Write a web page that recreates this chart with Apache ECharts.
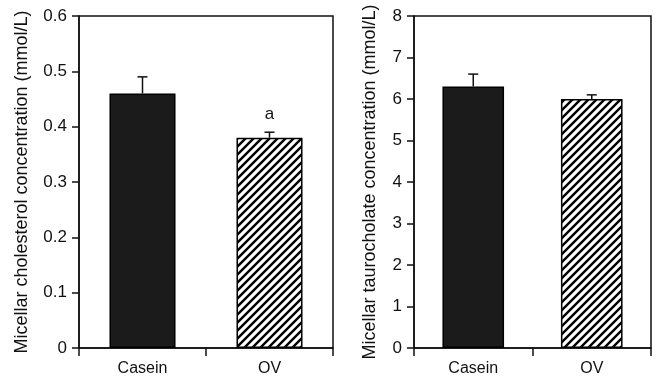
<!DOCTYPE html>
<html>
<head>
<meta charset="utf-8">
<script src="https://cdn.jsdelivr.net/npm/echarts@6/dist/echarts.min.js"></script>
<style>
  html, body { margin: 0; padding: 0; background: #fff; }
  #chart { width: 656px; height: 382px; }
</style>
</head>
<body>
<div id="chart"></div>
<script>
const categories = ['Casein', 'OV'];

// left panel: micellar cholesterol (mmol/L)
const cholMean = [0.46, 0.38];
const cholErr = [0.03, 0.01];
const cholMarks = ['', 'a'];

// right panel: micellar taurocholate (mmol/L)
const tauroMean = [6.3, 6.0];
const tauroErr = [0.3, 0.1];
const tauroMarks = ['', ''];

const font = '"Liberation Sans", Arial, Helvetica, sans-serif';
const ink = '#111';

// diagonal hatch for the OV bars
function hatch() {
  const c = document.createElement('canvas');
  c.width = 8; c.height = 8;
  const g = c.getContext('2d');
  g.fillStyle = '#fff';
  g.fillRect(0, 0, 8, 8);
  g.strokeStyle = '#000';
  g.lineWidth = 2.4;
  g.beginPath();
  g.moveTo(-2, 10); g.lineTo(10, -2);
  g.moveTo(-2, 2); g.lineTo(2, -2);
  g.moveTo(6, 10); g.lineTo(10, 6);
  g.stroke();
  return c;
}
const pattern = { image: hatch(), repeat: 'repeat' };

function errorItem(params, api) {
  const i = api.value(0);
  const v = api.value(1);
  const e = api.value(2);
  const base = api.coord([i, v]);
  const top = api.coord([i, v + e]);
  const children = [
    { type: 'line', shape: { x1: base[0], y1: base[1], x2: top[0], y2: top[1] }, style: { stroke: ink, lineWidth: 1.5 } },
    { type: 'line', shape: { x1: top[0] - 5, y1: top[1], x2: top[0] + 5, y2: top[1] }, style: { stroke: ink, lineWidth: 1.5 } }
  ];
  const mark = api.value(3);
  if (mark) {
    children.push({
      type: 'text',
      style: { text: String(mark), x: top[0], y: top[1] - 9, align: 'center', verticalAlign: 'bottom', font: '17px ' + font, fill: ink }
    });
  }
  return { type: 'group', children: children };
}

function panel(idx, mean, err, marks) {
  return [
    {
      type: 'bar',
      xAxisIndex: idx, yAxisIndex: idx,
      barWidth: '52%',
      data: mean.map((v, i) => ({
        value: v,
        itemStyle: i === 0
          ? { color: '#1b1b1b', borderColor: '#000', borderWidth: 1.5 }
          : { color: pattern, borderColor: '#000', borderWidth: 1.5 }
      })),
      z: 2
    },
    {
      type: 'custom',
      xAxisIndex: idx, yAxisIndex: idx,
      renderItem: errorItem,
      data: mean.map((v, i) => [i, v, err[i], marks[i]]),
      z: 3
    }
  ];
}

function xAxis(idx) {
  return {
    type: 'category', gridIndex: idx, data: categories,
    boundaryGap: true,
    axisLine: { lineStyle: { color: ink, width: 1.5 } },
    axisTick: { show: true, length: 8, lineStyle: { color: ink, width: 1.5 } },
    axisLabel: { color: ink, fontSize: 16, fontFamily: font, margin: 13 }
  };
}

function yAxis(idx, max, step, name, gap, fmt) {
  return {
    type: 'value', gridIndex: idx, min: 0, max: max, interval: step,
    name: name, nameLocation: 'middle', nameGap: gap,
    nameTextStyle: { color: ink, fontSize: 18, fontFamily: font },
    axisLine: { show: true, lineStyle: { color: ink, width: 1.5 } },
    axisTick: { show: true, length: 7, lineStyle: { color: ink, width: 1.5 } },
    axisLabel: { color: ink, fontSize: 17, fontFamily: font, margin: 12, formatter: fmt },
    splitLine: { show: false }
  };
}

const chart = echarts.init(document.getElementById('chart'), null, { renderer: 'canvas' });
chart.setOption({
  animation: false,
  backgroundColor: '#fff',
  grid: [
    { left: 79, right: 323, top: 16, bottom: 34, show: true, borderColor: ink, borderWidth: 1.5 },
    { left: 414, right: 5, top: 16, bottom: 34, show: true, borderColor: ink, borderWidth: 1.5 }
  ],
  xAxis: [xAxis(0), xAxis(1)],
  yAxis: [
    yAxis(0, 0.6, 0.1, 'Micellar cholesterol concentration (mmol/L)', 48,
      v => (v === 0 ? '0' : v.toFixed(1))),
    yAxis(1, 8, 1, 'Micellar taurocholate concentration (mmol/L)', 35,
      v => String(v))
  ],
  series: panel(0, cholMean, cholErr, cholMarks).concat(panel(1, tauroMean, tauroErr, tauroMarks))
});
</script>
</body>
</html>
